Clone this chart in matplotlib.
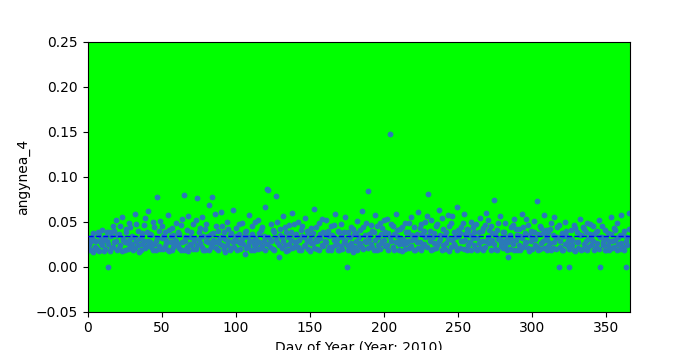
import numpy as np
from matplotlib import pyplot as plt

# two samples per day, values in the same units as the y axis
sample_a = [
	0.024, 0.031, 0.018, 0.037, 0.022, 0.028, 0.019, 0.035, 0.026, 0.041,
	0.017, 0.033, 0.029, 0.000, 0.038, 0.021, 0.045, 0.027, 0.052, 0.019,
	0.036, 0.024, 0.055, 0.030, 0.018, 0.042, 0.026, 0.049, 0.022, 0.034,
	0.019, 0.058, 0.028, 0.040, 0.016, 0.033, 0.025, 0.046, 0.021, 0.038,
	0.062, 0.027, 0.035, 0.018, 0.044, 0.029, 0.077, 0.023, 0.051, 0.032,
	0.020, 0.039, 0.026, 0.057, 0.017, 0.034, 0.043, 0.022, 0.030, 0.048,
	0.025, 0.036, 0.019, 0.053, 0.080, 0.028, 0.041, 0.017, 0.033, 0.024,
	0.047, 0.031, 0.020, 0.076, 0.038, 0.026, 0.055, 0.019, 0.042, 0.029,
	0.034, 0.068, 0.022, 0.078, 0.037, 0.027, 0.045, 0.018, 0.031, 0.061,
	0.024, 0.039, 0.016, 0.050, 0.028, 0.035, 0.021, 0.063, 0.030, 0.043,
	0.019, 0.036, 0.026, 0.049, 0.033, 0.014, 0.040, 0.023, 0.057, 0.028,
	0.045, 0.018, 0.032, 0.025, 0.052, 0.037, 0.021, 0.044, 0.029, 0.066,
	0.086, 0.085, 0.031, 0.047, 0.020, 0.038, 0.079, 0.027, 0.011, 0.042,
	0.033, 0.056, 0.024, 0.039, 0.018, 0.046, 0.030, 0.060, 0.022, 0.035,
	0.027, 0.050, 0.019, 0.041, 0.034, 0.023, 0.054, 0.028, 0.037, 0.017,
	0.043, 0.026, 0.064, 0.031, 0.020, 0.048, 0.036, 0.024, 0.039, 0.029,
	0.052, 0.018, 0.034, 0.045, 0.022, 0.030, 0.058, 0.025, 0.040, 0.019,
	0.047, 0.033, 0.027, 0.055, 0.000, 0.038, 0.021, 0.044, 0.016, 0.036,
	0.029, 0.051, 0.024, 0.041, 0.062, 0.020, 0.035, 0.027, 0.084, 0.031,
	0.046, 0.022, 0.039, 0.057, 0.018, 0.033, 0.048, 0.026, 0.043, 0.030,
	0.023, 0.053, 0.037, 0.148, 0.028, 0.045, 0.019, 0.058, 0.034, 0.025,
	0.042, 0.017, 0.031, 0.049, 0.026, 0.038, 0.021, 0.055, 0.030, 0.044,
	0.018, 0.036, 0.061, 0.027, 0.047, 0.022, 0.040, 0.033, 0.056, 0.081,
	0.029, 0.052, 0.020, 0.037, 0.045, 0.024, 0.063, 0.031, 0.019, 0.042,
	0.035, 0.026, 0.057, 0.017, 0.048, 0.030, 0.039, 0.023, 0.066, 0.034,
	0.021, 0.044, 0.028, 0.059, 0.036, 0.019, 0.041, 0.027, 0.050, 0.032,
	0.024, 0.047, 0.018, 0.038, 0.054, 0.029, 0.043, 0.022, 0.060, 0.033,
	0.026, 0.045, 0.037, 0.074, 0.020, 0.041, 0.031, 0.056, 0.023, 0.039,
	0.028, 0.049, 0.018, 0.011, 0.035, 0.044, 0.025, 0.053, 0.030, 0.019,
	0.042, 0.034, 0.058, 0.022, 0.037, 0.027, 0.046, 0.017, 0.040, 0.031,
	0.051, 0.024, 0.073, 0.036, 0.020, 0.043, 0.029, 0.057, 0.033, 0.018,
	0.039, 0.026, 0.048, 0.021, 0.055, 0.032, 0.044, 0.000, 0.028, 0.037,
	0.019, 0.050, 0.034, 0.023, 0.000, 0.041, 0.030, 0.046, 0.017, 0.038,
	0.027, 0.053, 0.035, 0.020, 0.042, 0.029, 0.049, 0.022, 0.036, 0.031,
	0.045, 0.018, 0.039, 0.026, 0.052, 0.000, 0.033, 0.024, 0.041, 0.019,
	0.037, 0.028, 0.055, 0.021, 0.043, 0.030, 0.048, 0.025, 0.035, 0.057,
	0.022, 0.040, 0.000, 0.033, 0.060,
]

sample_b = [
	0.019, 0.027, 0.033, 0.016, 0.029, 0.021, 0.038, 0.017, 0.031, 0.024,
	0.030, 0.020, 0.039, 0.025, 0.017, 0.034, 0.022, 0.040, 0.028, 0.035,
	0.021, 0.045, 0.017, 0.032, 0.027, 0.038, 0.020, 0.030, 0.044, 0.025,
	0.033, 0.021, 0.047, 0.024, 0.031, 0.019, 0.037, 0.028, 0.054, 0.023,
	0.029, 0.036, 0.022, 0.050, 0.025, 0.018, 0.032, 0.040, 0.020, 0.045,
	0.034, 0.023, 0.030, 0.019, 0.041, 0.027, 0.018, 0.035, 0.024, 0.029,
	0.038, 0.021, 0.046, 0.027, 0.018, 0.033, 0.022, 0.056, 0.025, 0.039,
	0.020, 0.028, 0.052, 0.024, 0.031, 0.043, 0.022, 0.034, 0.018, 0.047,
	0.027, 0.019, 0.036, 0.025, 0.030, 0.058, 0.021, 0.040, 0.026, 0.033,
	0.045, 0.020, 0.031, 0.024, 0.042, 0.018, 0.037, 0.027, 0.022, 0.034,
	0.029, 0.047, 0.020, 0.031, 0.025, 0.038, 0.021, 0.033, 0.027, 0.019,
	0.036, 0.024, 0.050, 0.030, 0.020, 0.027, 0.041, 0.023, 0.034, 0.018,
	0.025, 0.033, 0.022, 0.029, 0.041, 0.019, 0.031, 0.050, 0.024, 0.035,
	0.021, 0.028, 0.044, 0.017, 0.033, 0.025, 0.039, 0.021, 0.047, 0.027,
	0.036, 0.022, 0.030, 0.019, 0.045, 0.033, 0.024, 0.040, 0.020, 0.031,
	0.026, 0.037, 0.021, 0.044, 0.029, 0.018, 0.032, 0.053, 0.023, 0.036,
	0.027, 0.040, 0.022, 0.019, 0.035, 0.046, 0.024, 0.031, 0.018, 0.038,
	0.023, 0.020, 0.039, 0.030, 0.024, 0.018, 0.033, 0.026, 0.042, 0.022,
	0.037, 0.019, 0.033, 0.026, 0.022, 0.044, 0.029, 0.048, 0.021, 0.036,
	0.025, 0.040, 0.018, 0.030, 0.045, 0.024, 0.020, 0.036, 0.028, 0.052,
	0.039, 0.024, 0.019, 0.033, 0.047, 0.022, 0.036, 0.027, 0.041, 0.018,
	0.030, 0.044, 0.025, 0.020, 0.038, 0.029, 0.048, 0.023, 0.035, 0.019,
	0.032, 0.027, 0.021, 0.043, 0.018, 0.036, 0.025, 0.050, 0.022, 0.034,
	0.040, 0.019, 0.033, 0.026, 0.021, 0.047, 0.028, 0.035, 0.054, 0.024,
	0.020, 0.038, 0.031, 0.045, 0.022, 0.056, 0.025, 0.033, 0.018, 0.041,
	0.037, 0.028, 0.048, 0.020, 0.030, 0.042, 0.024, 0.035, 0.018, 0.044,
	0.039, 0.020, 0.032, 0.026, 0.021, 0.040, 0.018, 0.046, 0.028, 0.052,
	0.041, 0.019, 0.030, 0.025, 0.036, 0.018, 0.048, 0.032, 0.027, 0.021,
	0.038, 0.023, 0.033, 0.027, 0.020, 0.031, 0.046, 0.019, 0.042, 0.035,
	0.024, 0.018, 0.032, 0.044, 0.026, 0.053, 0.021, 0.035, 0.028, 0.020,
	0.039, 0.031, 0.022, 0.018, 0.045, 0.026, 0.037, 0.021, 0.041, 0.030,
	0.023, 0.042, 0.019, 0.035, 0.027, 0.020, 0.033, 0.046, 0.022, 0.018,
	0.034, 0.025, 0.040, 0.029, 0.020, 0.031, 0.024, 0.019, 0.043, 0.027,
	0.021, 0.035, 0.018, 0.044, 0.025, 0.038, 0.019, 0.031, 0.047, 0.024,
	0.029, 0.036, 0.022, 0.040, 0.020, 0.033, 0.045, 0.027, 0.018, 0.031,
	0.024, 0.019, 0.036, 0.028, 0.022, 0.041, 0.018, 0.033, 0.020, 0.026,
	0.035, 0.018, 0.029, 0.024, 0.042,
]

days = np.arange(1, len(sample_a) + 1)

fig = plt.figure(figsize=(7, 3.5), dpi=100)
ax = fig.add_subplot(111)
ax.set_facecolor('#00ff00')

ax.scatter(days, sample_a, s=10, color='#2a7ab8', zorder=2)
ax.scatter(days, sample_b, s=10, color='#2a7ab8', zorder=2)

# level of the dashed line
mean_level = 0.0335
ax.axhline(mean_level, color='b', linestyle='--', linewidth=1, zorder=3)

ax.set_xlim(0, 366)
ax.set_ylim(-0.05, 0.25)
ax.set_xlabel('Day of Year (Year: 2010)')
ax.set_ylabel('angynea_4')

plt.savefig('out.png', dpi=100)
